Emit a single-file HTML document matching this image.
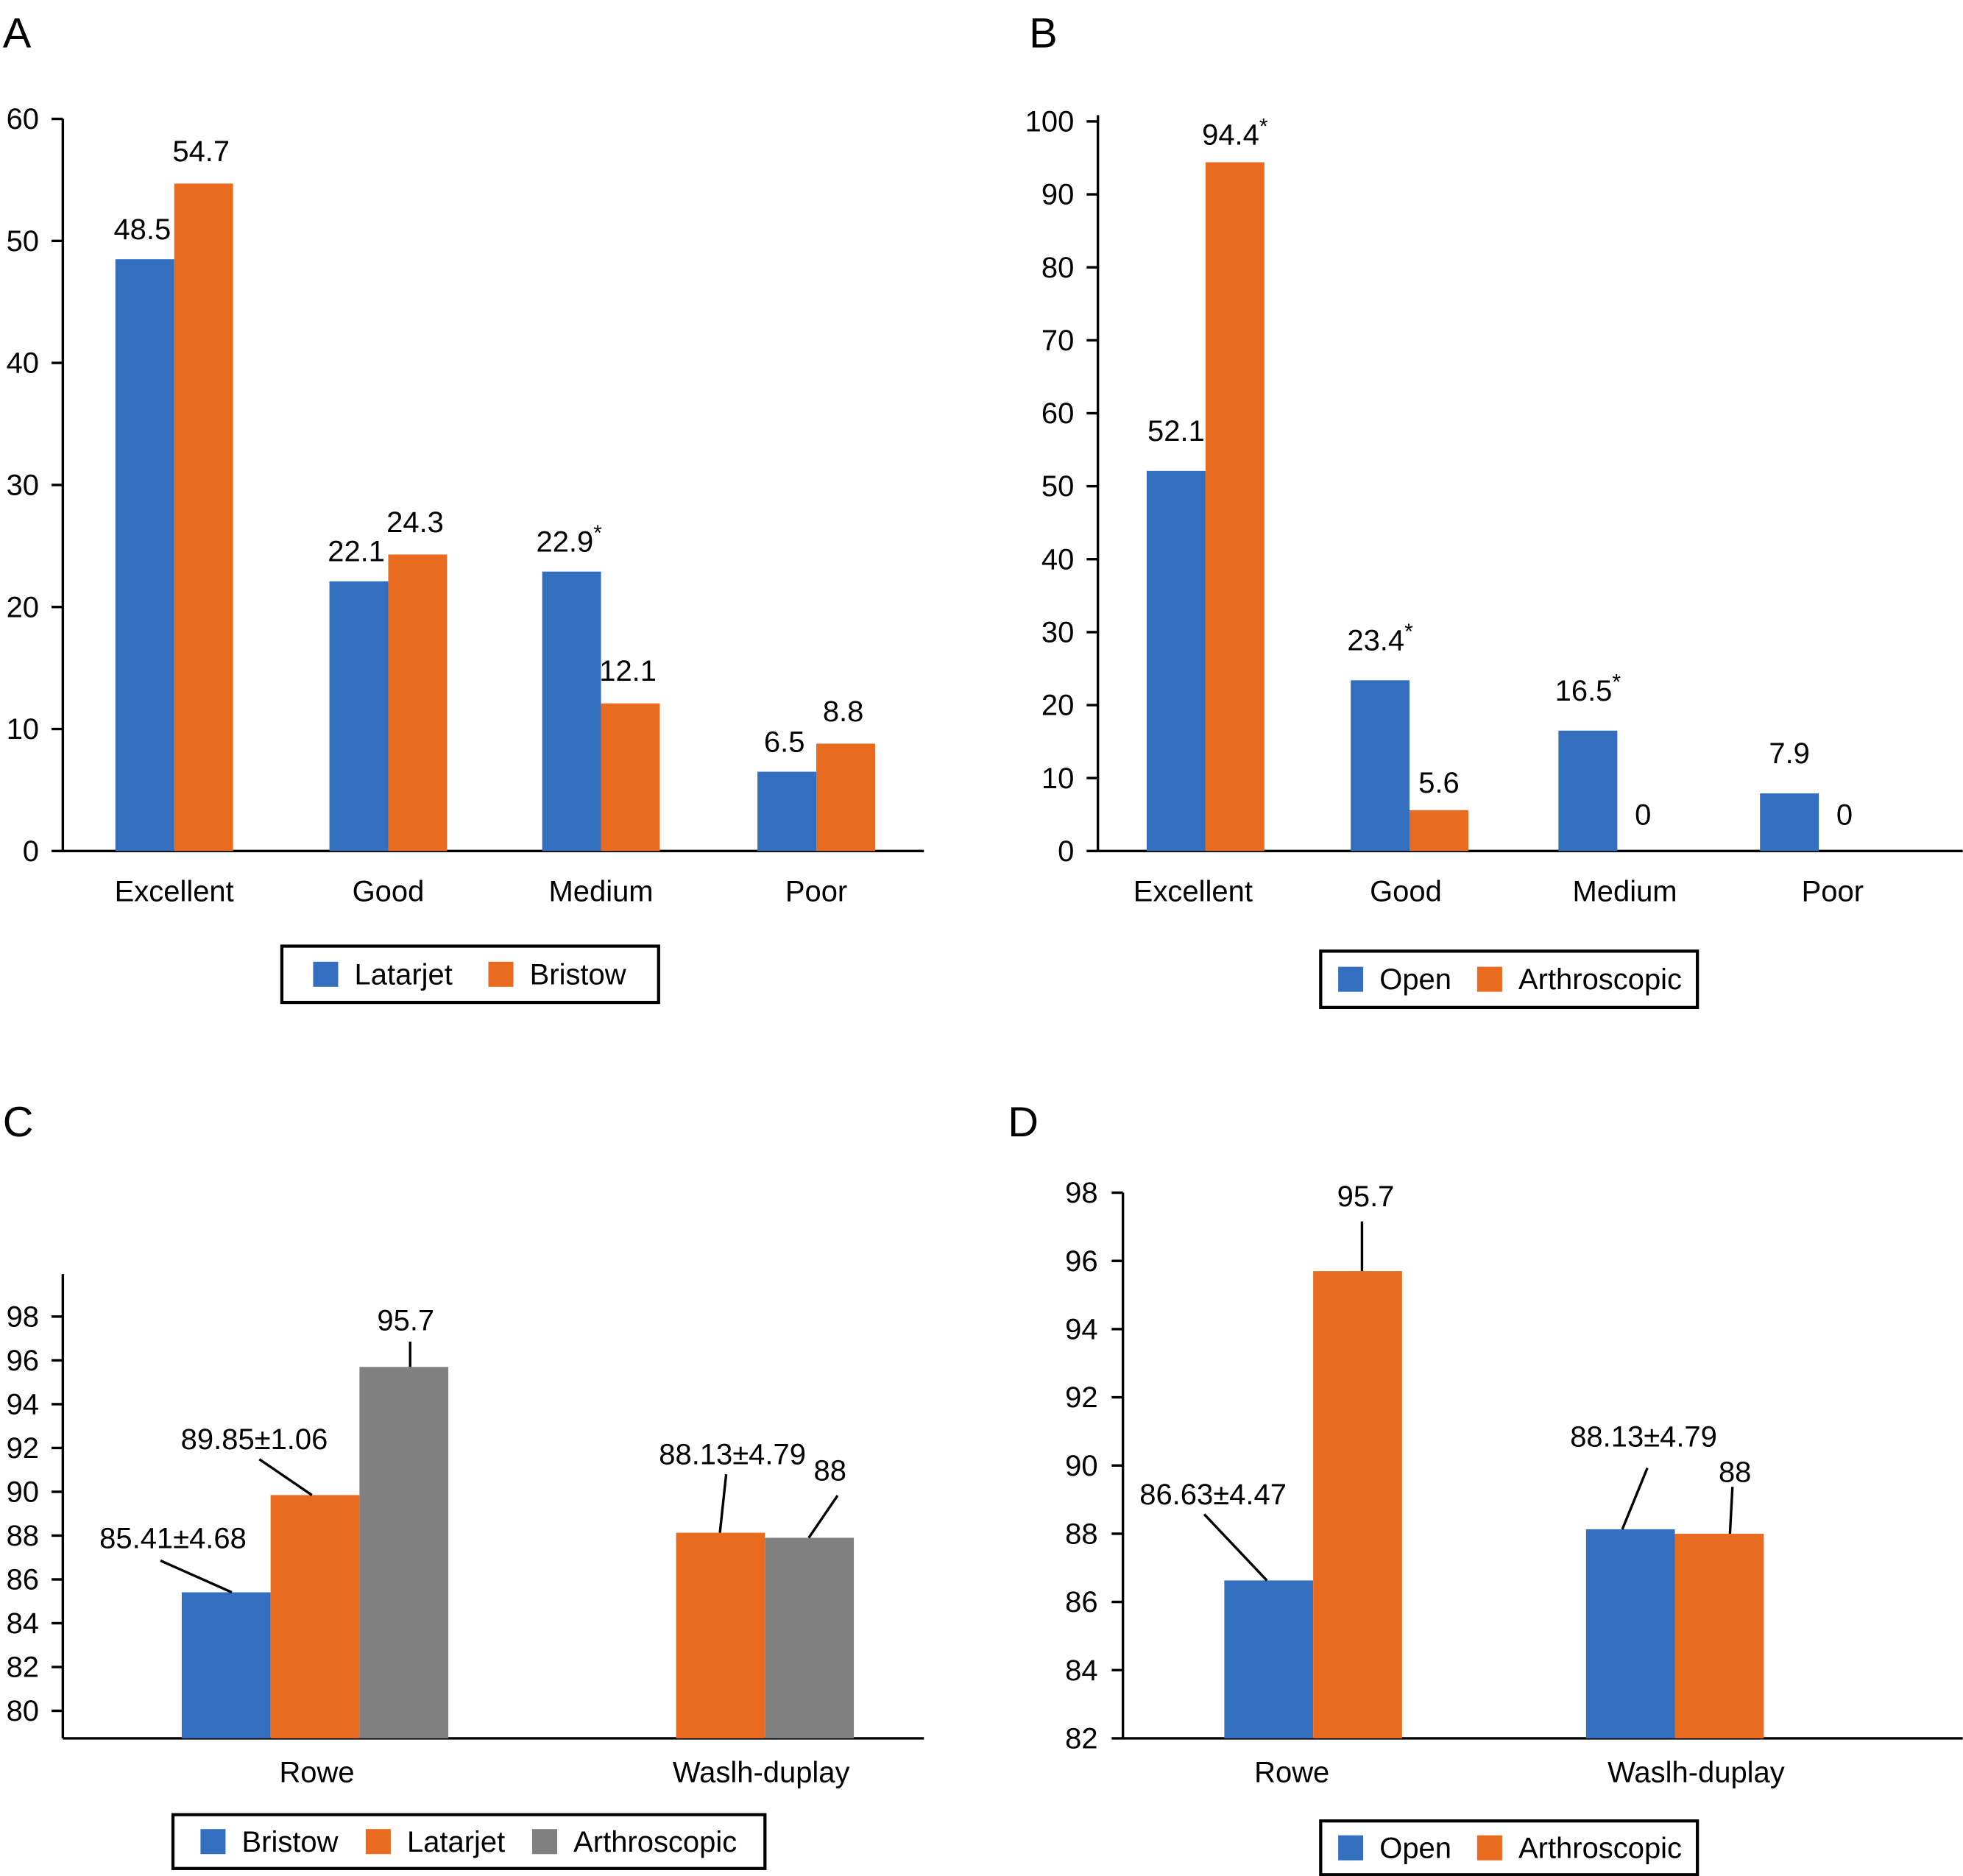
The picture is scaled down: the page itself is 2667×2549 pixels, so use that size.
<!DOCTYPE html>
<html><head><meta charset="utf-8"><style>
html,body{margin:0;padding:0;background:#fff}
svg{display:block;font-family:"Liberation Sans",Arial,sans-serif}
</style></head><body>
<svg id="chart" width="2667" height="2549" viewBox="0 0 1568 1499" xmlns="http://www.w3.org/2000/svg"></svg>
<script>
// Panel A data
const catsA = ["Excellent","Good","Medium","Poor"];
const latarjetA = [48.5,22.1,22.9,6.5];
const bristowA = [54.7,24.3,12.1,8.8];
const labelsA1 = ["48.5","22.1","22.9*","6.5"];
const labelsA2 = ["54.7","24.3","12.1","8.8"];
const ticksA = [0,10,20,30,40,50,60];
// Panel B data
const catsB = ["Excellent","Good","Medium","Poor"];
const openB = [52.1,23.4,16.5,7.9];
const arthroB = [94.4,5.6,0,0];
const labelsB1 = ["52.1","23.4*","16.5*","7.9"];
const labelsB2 = ["94.4*","5.6","0","0"];
const ticksB = [0,10,20,30,40,50,60,70,80,90,100];
// Panel C data
const catsC = ["Rowe","Waslh-duplay"];
const bristowC = [85.41,null];
const latarjetC = [89.85,88.13];
const arthroC = [95.7,87.9];
const labelsC = [["85.41±4.68","89.85±1.06","95.7"],[null,"88.13±4.79","88"]];
const ticksC = [80,82,84,86,88,90,92,94,96,98];
// Panel D data
const catsD = ["Rowe","Waslh-duplay"];
const openD = [86.63,88.13];
const arthroD = [95.7,88.0];
const labelsD = [["86.63±4.47","95.7"],["88.13±4.79","88"]];
const ticksD = [82,84,86,88,90,92,94,96,98];

const BLUE="#336EBF",ORANGE="#E96B1F",GRAY="#808080";
const FS=23.5;
const svg=document.getElementById('chart');
const NS="http://www.w3.org/2000/svg";
function el(tag,attrs,parent){const e=document.createElementNS(NS,tag);for(const k in attrs)e.setAttribute(k,attrs[k]);(parent||svg).appendChild(e);return e;}
function txt(x,y,s,size,anchor,name,parent){const t=el('text',{x:x,y:y,'font-size':size,'text-anchor':anchor||'middle',fill:'#000'},parent);


const star=s.endsWith('*');t.textContent=star?s.slice(0,-1):s;
if(star){const sp=document.createElementNS(NS,'tspan');sp.setAttribute('dy','-9');sp.setAttribute('font-size',size*0.75);sp.textContent='*';t.appendChild(sp);}return t;}
function line(x1,y1,x2,y2,w,name,parent){const l=el('line',{x1:x1,y1:y1,x2:x2,y2:y2,stroke:'#000','stroke-width':w||2},parent);

return l;}
function rect(x,y,w,h,fill,name,parent){const r=el('rect',{x:x,y:y,width:w,height:h,fill:fill},parent);

return r;}
function axes(g,ax,yTop,yBot,xEnd,ticks,yf,lblX){
 line(ax,yTop,ax,yBot,2,'y-axis',g);line(ax,yBot,xEnd,yBot,2,'x-axis',g);
 ticks.forEach(t=>{const y=yf(t);line(ax-9,y,ax,y,2,'y-tick',g);txt(lblX,y+8,String(t),FS,'end','y-tick-label',g);});
}
function legend(g,x,y,w,h,items){const lg=el('g',{},g);
 
 
 const b=el('rect',{x:x,y:y,width:w,height:h,fill:'none',stroke:'#000','stroke-width':2.5},lg);
 
 
 items.forEach(it=>{rect(it[0],y+h/2-10,20,20,it[2],'legend-swatch',lg);txt(it[0]+33,y+h/2+8,it[1],FS,'start','legend-entry',lg);});
}
function panel(name){const g=el('g',{});return g;}

// ---- Panel A
(function(){const g=panel('panel-a');txt(2,38,'A',34,'start','panel-label',g);
 const yf=v=>680-v*9.75;const cx=[139,310,480,652];const bw=47;
 axes(g,50,95,680,738,ticksA,yf,31);
 catsA.forEach((c,i)=>{
  rect(cx[i]-bw,yf(latarjetA[i]),bw,680-yf(latarjetA[i]),BLUE,'bar-latarjet-'+c.toLowerCase(),g);
  rect(cx[i],yf(bristowA[i]),bw,680-yf(bristowA[i]),ORANGE,'bar-bristow-'+c.toLowerCase(),g);
  txt(cx[i]-bw/2-2,yf(latarjetA[i])-16,labelsA1[i],FS,'middle','value-label',g);
  txt(cx[i]+bw/2-2,yf(bristowA[i])-18,labelsA2[i],FS,'middle','value-label',g);
  txt(cx[i],720,c,FS,'middle','x-category-label',g);});
 legend(g,225,756,301,45,[[250,'Latarjet',BLUE],[390,'Bristow',ORANGE]]);
})();
// ---- Panel B
(function(){const g=panel('panel-b');txt(822,38,'B',34,'start','panel-label',g);
 const yf=v=>680-v*5.83;const cx=[963,1126,1292,1453];const lx=[953,1123,1298,1464];const bw=47;
 axes(g,877,92,680,1568,ticksB,yf,858);
 catsB.forEach((c,i)=>{
  rect(cx[i]-bw,yf(openB[i]),bw,680-yf(openB[i]),BLUE,'bar-open-'+c.toLowerCase(),g);
  if(arthroB[i]>0)rect(cx[i],yf(arthroB[i]),bw,680-yf(arthroB[i]),ORANGE,'bar-arthroscopic-'+c.toLowerCase(),g);
  txt(cx[i]-bw/2,yf(openB[i])-24,labelsB1[i],FS,'middle','value-label',g);
  txt(cx[i]+bw/2+(arthroB[i]>0?0:-3),arthroB[i]>0?yf(arthroB[i])-14:659,labelsB2[i],FS,'middle','value-label',g);
  txt(lx[i],720,c,FS,'middle','x-category-label',g);});
 legend(g,1055,760,301,45,[[1069,'Open',BLUE],[1180,'Arthroscopic',ORANGE]]);
})();
// ---- Panel C
(function(){const g=panel('panel-c');txt(2,908,'C',34,'start','panel-label',g);
 const yf=v=>1367-(v-80)*17.5;const base=1389;const bw=71;
 axes(g,50,1018,base,738,ticksC,yf,31);
 const starts=[145,540];const series=[bristowC,latarjetC,arthroC];const cols=[BLUE,ORANGE,GRAY];const nm=['bristow','latarjet','arthroscopic'];
 const lblPos=[[[138,1237],[203,1158],[324,1063]],[null,[585,1170],[663,1183]]];
 catsC.forEach((c,i)=>{let x=starts[i];
  series.forEach((s,j)=>{if(s[i]==null)return;const y=yf(s[i]);
   rect(x,y,bw,base-y,cols[j],'bar-'+nm[j]+'-'+c.toLowerCase(),g);
   const lp=lblPos[i][j];const lx=lp[0],ly=lp[1];
   txt(lx,ly,labelsC[i][j],FS,'middle','value-label',g);
   if(i===0&&j===2){line(x+bw/2+5,ly+9,x+bw/2+5,y,2,'leader-line',g);}
   else if(i===0&&j===0){line(128,ly+10,x+40,y,2,'leader-line',g);}
   else if(i===0){line(207,ly+8,x+33,y,2,'leader-line',g);}
   else{line(j===1?x+40:x+58,ly+(j===1?8:12),x+35,y,2,'leader-line',g);}
   x+=bw;});
  txt(i===0?253:608,1424,c,FS,'middle','x-category-label',g);});
 legend(g,138,1450,473,43,[[160,'Bristow',BLUE],[292,'Latarjet',ORANGE],[425,'Arthroscopic',GRAY]]);
})();
// ---- Panel D
(function(){const g=panel('panel-d');txt(805,908,'D',34,'start','panel-label',g);
 const yf=v=>1389-(v-82)*27.25;const base=1389;const bw=71;
 axes(g,897,953,base,1568,ticksD,yf,877);
 const starts=[978,1267];const series=[openD,arthroD];const cols=[BLUE,ORANGE];const nm=['open','arthroscopic'];
 const lblPos=[[[969,1202],[1091,964]],[[1313,1156],[1386,1184]]];
 catsD.forEach((c,i)=>{let x=starts[i];
  series.forEach((s,j)=>{const y=yf(s[i]);
   rect(x,y,bw,base-y,cols[j],'bar-'+nm[j]+'-'+c.toLowerCase(),g);
   const lp=lblPos[i][j];txt(lp[0],lp[1],labelsD[i][j],FS,'middle','value-label',g);
   if(i===0&&j===0)line(962,1210,1012,y,2,'leader-line',g);
   else if(i===0)line(1088,976,1088,y,2,'leader-line',g);
   else if(j===0)line(1316,1173,1296,y,2,'leader-line',g);
   else line(1384,1188,1382,y,2,'leader-line',g);
   x+=bw;});
  txt(i===0?1032:1355,1424,c,FS,'middle','x-category-label',g);});
 legend(g,1055,1455,301,43,[[1069,'Open',BLUE],[1180,'Arthroscopic',ORANGE]]);
})();
</script>
</body></html>
